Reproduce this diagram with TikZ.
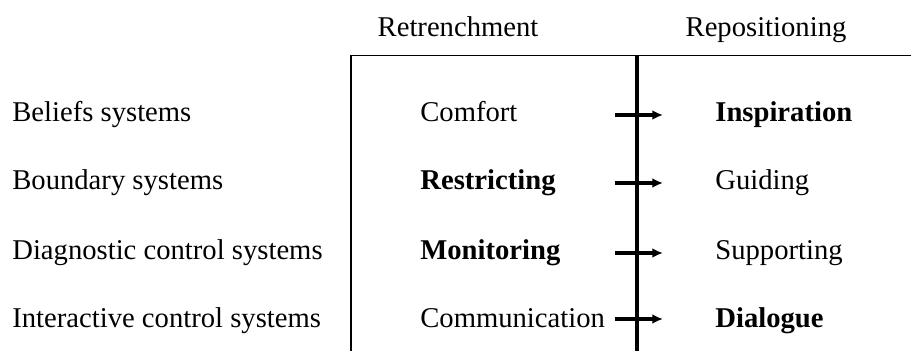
\documentclass[tikz,border=0pt]{standalone}
\usepackage{fontspec}
\setmainfont{Liberation Serif}
\usetikzlibrary{arrows.meta}
\begin{document}
\begin{tikzpicture}[every node/.style={inner sep=0pt,anchor=base west,font=\fontsize{16.3}{19}\selectfont},
	moveto/.style={-{Latex[length=6pt,width=5.5pt]},line width=1.8pt}]
	\useasboundingbox (0,0) rectangle (18.22,7.02);
	%Spaltenkoepfe und Rahmen
	\node[anchor=base] (R) at (9.16,6.28) {Retrenchment}; \node[anchor=base] (P) at (15.32,6.28) {Repositioning};
	\draw[line width=1.1pt] (7.02,0) -- (7.02,5.91) -- (18.22,5.91);
	\draw[line width=1.8pt] (12.74,0) -- (12.74,5.91);
	
	\node (L1) at (0.24,4.58) {Beliefs systems}; \node (M1) at (8.4,4.58) {Comfort}; \node (N1) at (14.3,4.58) {\textbf{Inspiration}};
	\node (L2) at (0.24,3.22) {Boundary systems}; \node (M2) at (8.4,3.22) {\textbf{Restricting}}; \node (N2) at (14.3,3.22) {Guiding};
	\node (L3) at (0.24,1.82) {Diagnostic control systems}; \node (M3) at (8.4,1.82) {\textbf{Monitoring}}; \node (N3) at (14.3,1.82) {Supporting};
	\node (L4) at (0.24,0.46) {Interactive control systems}; \node (M4) at (8.4,0.46) {Communication}; \node (N4) at (14.3,0.46) {\textbf{Dialogue}};
	
	\coordinate (a1) at (12.3,4.72); \coordinate (b1) at (13.26,4.72); \draw[moveto] (a1) -- (b1);
	\coordinate (a2) at (12.3,3.36); \coordinate (b2) at (13.26,3.36); \draw[moveto] (a2) -- (b2);
	\coordinate (a3) at (12.3,1.96); \coordinate (b3) at (13.26,1.96); \draw[moveto] (a3) -- (b3);
	\coordinate (a4) at (12.3,0.64); \coordinate (b4) at (13.26,0.64); \draw[moveto] (a4) -- (b4);
\end{tikzpicture}
\end{document}
